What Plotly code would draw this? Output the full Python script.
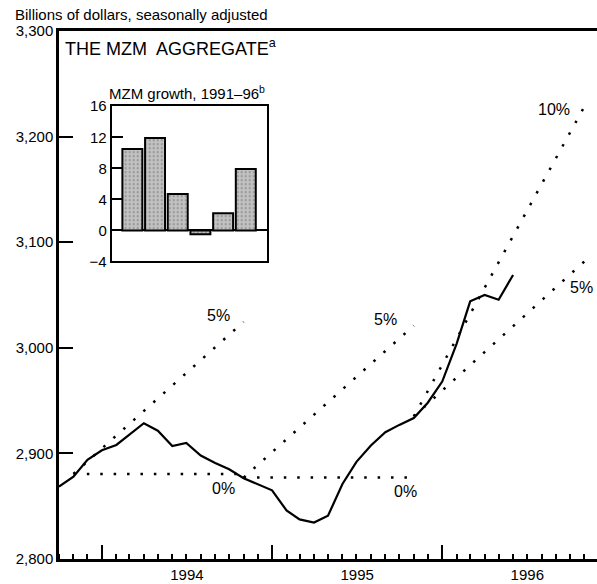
import plotly.graph_objects as go

# ---- data ----
months = [
    "1993-10-01", "1993-11-01", "1993-12-01",
    "1994-01-01", "1994-02-01", "1994-03-01", "1994-04-01", "1994-05-01", "1994-06-01",
    "1994-07-01", "1994-08-01", "1994-09-01", "1994-10-01", "1994-11-01", "1994-12-01",
    "1995-01-01", "1995-02-01", "1995-03-01", "1995-04-01", "1995-05-01", "1995-06-01",
    "1995-07-01", "1995-08-01", "1995-09-01", "1995-10-01", "1995-11-01", "1995-12-01",
    "1996-01-01", "1996-02-01", "1996-03-01", "1996-04-01", "1996-05-01", "1996-06-01",
]
mzm = [
    2868.5, 2878, 2894,
    2903, 2908, 2918, 2928.6, 2921.5, 2907,
    2910, 2898, 2891, 2885, 2876.5, 2871,
    2865, 2846, 2837.5, 2834.5, 2841, 2871,
    2892, 2907.5, 2920, 2927, 2933.5, 2948,
    2968, 3004, 3044, 3050, 3045.5, 3069,
]

# growth-cone guide lines: (start date, end date, start value, end value)
cone_starts = ["1993-11-01", "1993-11-01", "1994-11-01", "1994-11-01", "1995-11-01", "1995-11-01"]
cone_ends = ["1994-11-01", "1994-11-01", "1995-11-01", "1995-11-01", "1996-11-01", "1996-11-01"]
cone_start_vals = [2880.6, 2880.6, 2877.1, 2877.1, 2935.0, 2935.0]
cone_end_vals = [2880.6, 3024.6, 2877.1, 3021.0, 3081.8, 3228.5]

# cone labels
label_text = ["0%", "5%", "0%", "5%", "5%", "10%"]
label_dates = ["1994-09-18", "1994-09-09", "1995-10-15", "1995-09-01", "1996-10-25", "1996-08-28"]
label_vals = [2866.4, 3030.3, 2863.5, 3026.5, 3056.9, 3225.6]

# inset
inset_years = ["1991", "1992", "1993", "1994", "1995", "1996"]
inset_growth = [10.5, 11.9, 4.7, -0.5, 2.2, 7.9]

y_ticks = [2800, 2900, 3000, 3100, 3200, 3300]
inset_ticks = [-4, 0, 4, 8, 12, 16]

FONT = "Liberation Sans, Arial, sans-serif"

fig = go.Figure()

for xs, xe, vs, ve in zip(cone_starts, cone_ends, cone_start_vals, cone_end_vals):
    fig.add_trace(go.Scatter(
        x=[xs, xe], y=[vs, ve], mode="lines",
        line=dict(color="black", width=2.5, dash="2.5px,10.9px"),
        hoverinfo="skip", showlegend=False,
    ))

fig.add_trace(go.Scatter(
    x=months, y=mzm, mode="lines",
    line=dict(color="black", width=2.2),
    showlegend=False,
))

fig.add_trace(go.Bar(
    x=inset_years, y=inset_growth, xaxis="x2", yaxis="y2", width=0.88,
    marker=dict(color="#c2c2c2", line=dict(color="black", width=2),
                pattern=dict(shape=".", fgcolor="#6a6a6a", size=4, solidity=0.25, fillmode="overlay")),
    showlegend=False,
))

annotations = []
for t, d, v in zip(label_text, label_dates, label_vals):
    annotations.append(dict(x=d, y=v, xref="x", yref="y", text=t, showarrow=False,
                            font=dict(family=FONT, size=16, color="black"),
                            xanchor="center", yanchor="middle"))

annotations.append(dict(x=0.008, y=0.9934, xref="paper", yref="paper",
                        text="THE MZM\u00a0 AGGREGATE<sup>a</sup>", showarrow=False,
                        font=dict(family=FONT, size=18, color="black"),
                        xanchor="left", yanchor="top"))
annotations.append(dict(x=-0.0855, y=1.052, xref="paper", yref="paper",
                        text="Billions of dollars, seasonally adjusted", showarrow=False,
                        font=dict(family=FONT, size=15, color="black"),
                        xanchor="left", yanchor="top"))
annotations.append(dict(x=1, y=1, xref="x2 domain", yref="y2 domain",
                        text="MZM growth, 1991\u201396<sup>b</sup>", showarrow=False,
                        font=dict(family=FONT, size=15, color="black"),
                        xanchor="right", yanchor="bottom", yshift=2))

fig.update_layout(
    width=597, height=584,
    margin=dict(l=59, r=0, t=31, b=25),
    plot_bgcolor="white", paper_bgcolor="white",
    showlegend=False,
    font=dict(family=FONT, size=15, color="black"),
    annotations=annotations,
    xaxis=dict(
        type="date", range=["1993-10-01", "1996-11-28"],
        tick0="1994-01-01", dtick="M12", tickformat="%Y", ticklabelmode="period",
        ticks="inside", ticklen=14, tickwidth=2, tickcolor="black",
        showline=True, linewidth=2.5, linecolor="black", mirror=True,
        showgrid=False, zeroline=False,
        minor=dict(ticks="inside", ticklen=5, tickwidth=2, tickcolor="black",
                   tick0="1994-01-01", dtick="M1", showgrid=False),
        tickfont=dict(family=FONT, size=15),
    ),
    yaxis=dict(
        range=[2800, 3300], tickvals=y_ticks, tickformat=",d",
        ticks="inside", ticklen=14, tickwidth=2, tickcolor="black",
        showline=True, linewidth=2.5, linecolor="black",
        showgrid=False, zeroline=False, ticklabelstandoff=0,
        tickfont=dict(family=FONT, size=15),
    ),
    xaxis2=dict(
        domain=[0.098, 0.386], anchor="y2", type="category", range=[-0.91, 5.92],
        showticklabels=False, ticks="", showline=True, mirror=True,
        linewidth=2, linecolor="black", showgrid=False, zeroline=False,
    ),
    yaxis2=dict(
        domain=[0.5636, 0.8575], anchor="x2", range=[-4, 16], tickvals=inset_ticks,
        ticks="inside", ticklen=11, tickwidth=2, tickcolor="black",
        showline=True, mirror=True, linewidth=2, linecolor="black",
        showgrid=False, zeroline=True, zerolinecolor="black", zerolinewidth=1.5,
        tickfont=dict(family=FONT, size=15), ticklabelstandoff=0,
    ),
)

fig.write_html("out.html", config={"displayModeBar": False},
               post_script="document.body.style.margin='0px';")
